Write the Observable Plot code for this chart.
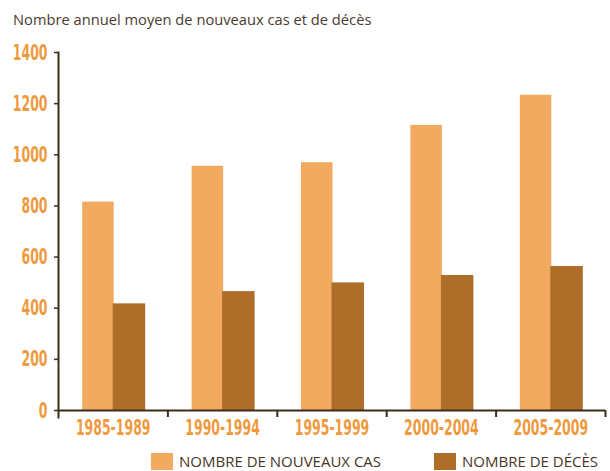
<!DOCTYPE html>
<html>
<head>
<meta charset="utf-8">
<script src="https://cdn.jsdelivr.net/npm/d3@7"></script>
<script src="https://cdn.jsdelivr.net/npm/@observablehq/plot@0.6"></script>
<style>
  html, body { margin: 0; padding: 0; background: #fff; }
  #wrap { width: 610px; height: 471px; position: relative; overflow: hidden; }
  #title { position: absolute; left: 13px; top: 9px; font-family: "Open Sans", sans-serif; font-size: 14.7px; color: #4b3b30; white-space: nowrap; }
  #chart { position: absolute; left: 0; top: 35px; }
  #legend { position: absolute; left: 0; top: 453px; width: 610px; font-family: "Open Sans", sans-serif; font-size: 15px; color: #4a3426; }
  .item { position: absolute; top: 0; display: flex; align-items: center; line-height: 17px; }
  .sw { width: 22px; height: 17px; margin-right: 6px; }
</style>
</head>
<body>
<div id="wrap">
  <div id="title">Nombre annuel moyen de nouveaux cas et de décès</div>
  <div id="chart"></div>
  <div id="legend"></div>
</div>
<script>
const periods = ["1985-1989", "1990-1994", "1995-1999", "2000-2004", "2005-2009"];
const newCases = [815, 955, 969, 1115, 1233];
const deaths = [417, 465, 499, 528, 563];
const yTicks = [0, 200, 400, 600, 800, 1000, 1200, 1400];
const seriesNames = ["NOMBRE DE NOUVEAUX CAS", "NOMBRE DE DÉCÈS"];
const seriesColors = ["#f1aa60", "#ae6e2a"];

const width = 610, marginLeft = 58, marginRight = 5;
const bw = (width - marginLeft - marginRight) / periods.length;
const barW = 31.5;
const gap = (bw - 2 * barW) / 2;

const rowsNew = periods.map((p, i) => ({period: p, value: newCases[i]}));
const rowsDeaths = periods.map((p, i) => ({period: p, value: deaths[i]}));

const axisColor = "#3e2b1a";
const labelColor = "#ef9a3f";
const labelFont = '"DejaVu Sans Condensed", "DejaVu Sans", sans-serif';

const chart = Plot.plot({
  width,
  height: 410,
  marginLeft,
  marginRight,
  marginTop: 17,
  marginBottom: 35,
  x: {domain: periods, padding: 0, round: false},
  y: {domain: [0, 1400], round: false},
  style: {fontFamily: labelFont, overflow: "visible"},
  marks: [
    Plot.barY(rowsNew, {x: "period", y: "value", fill: seriesColors[0], insetLeft: gap + 1, insetRight: gap + barW - 1}),
    Plot.barY(rowsDeaths, {x: "period", y: "value", fill: seriesColors[1], insetLeft: gap + barW, insetRight: gap - 1}),
    Plot.ruleY([0], {stroke: axisColor, strokeWidth: 2}),
    Plot.frame({anchor: "left", stroke: axisColor, strokeWidth: 2, insetBottom: -7}),
    Plot.axisY({ticks: yTicks, tickSize: 4, tickPadding: 7, stroke: axisColor, strokeWidth: 1.5, fill: labelColor, fontSize: 22, fontWeight: "bold", tickFormat: d => d3.format("d")(d), label: null}),
    Plot.axisX({tickSize: 7, dx: bw / 2, text: null, stroke: axisColor, strokeWidth: 2, label: null}),
    Plot.axisX({tickSize: 0, tickPadding: 9, fill: labelColor, fontSize: 22, fontWeight: "bold", label: null})
  ]
});
document.getElementById("chart").appendChild(chart);

// condense the bold tick labels horizontally (narrow display face in the original)
d3.select(chart)
  .selectAll('g[aria-label="y-axis tick label"] text, g[aria-label="x-axis tick label"] text')
  .each(function() {
    const L = this.getComputedTextLength();
    this.setAttribute("textLength", (L * 0.63).toFixed(1));
    this.setAttribute("lengthAdjust", "spacingAndGlyphs");
  });

const legend = document.getElementById("legend");
const legendX = [151, 434];
seriesNames.forEach((name, i) => {
  const item = document.createElement("div");
  item.className = "item";
  item.style.left = legendX[i] + "px";
  const sw = document.createElement("div");
  sw.className = "sw";
  sw.style.background = seriesColors[i];
  const t = document.createElement("span");
  t.textContent = name;
  item.appendChild(sw);
  item.appendChild(t);
  legend.appendChild(item);
});
</script>
</body>
</html>
